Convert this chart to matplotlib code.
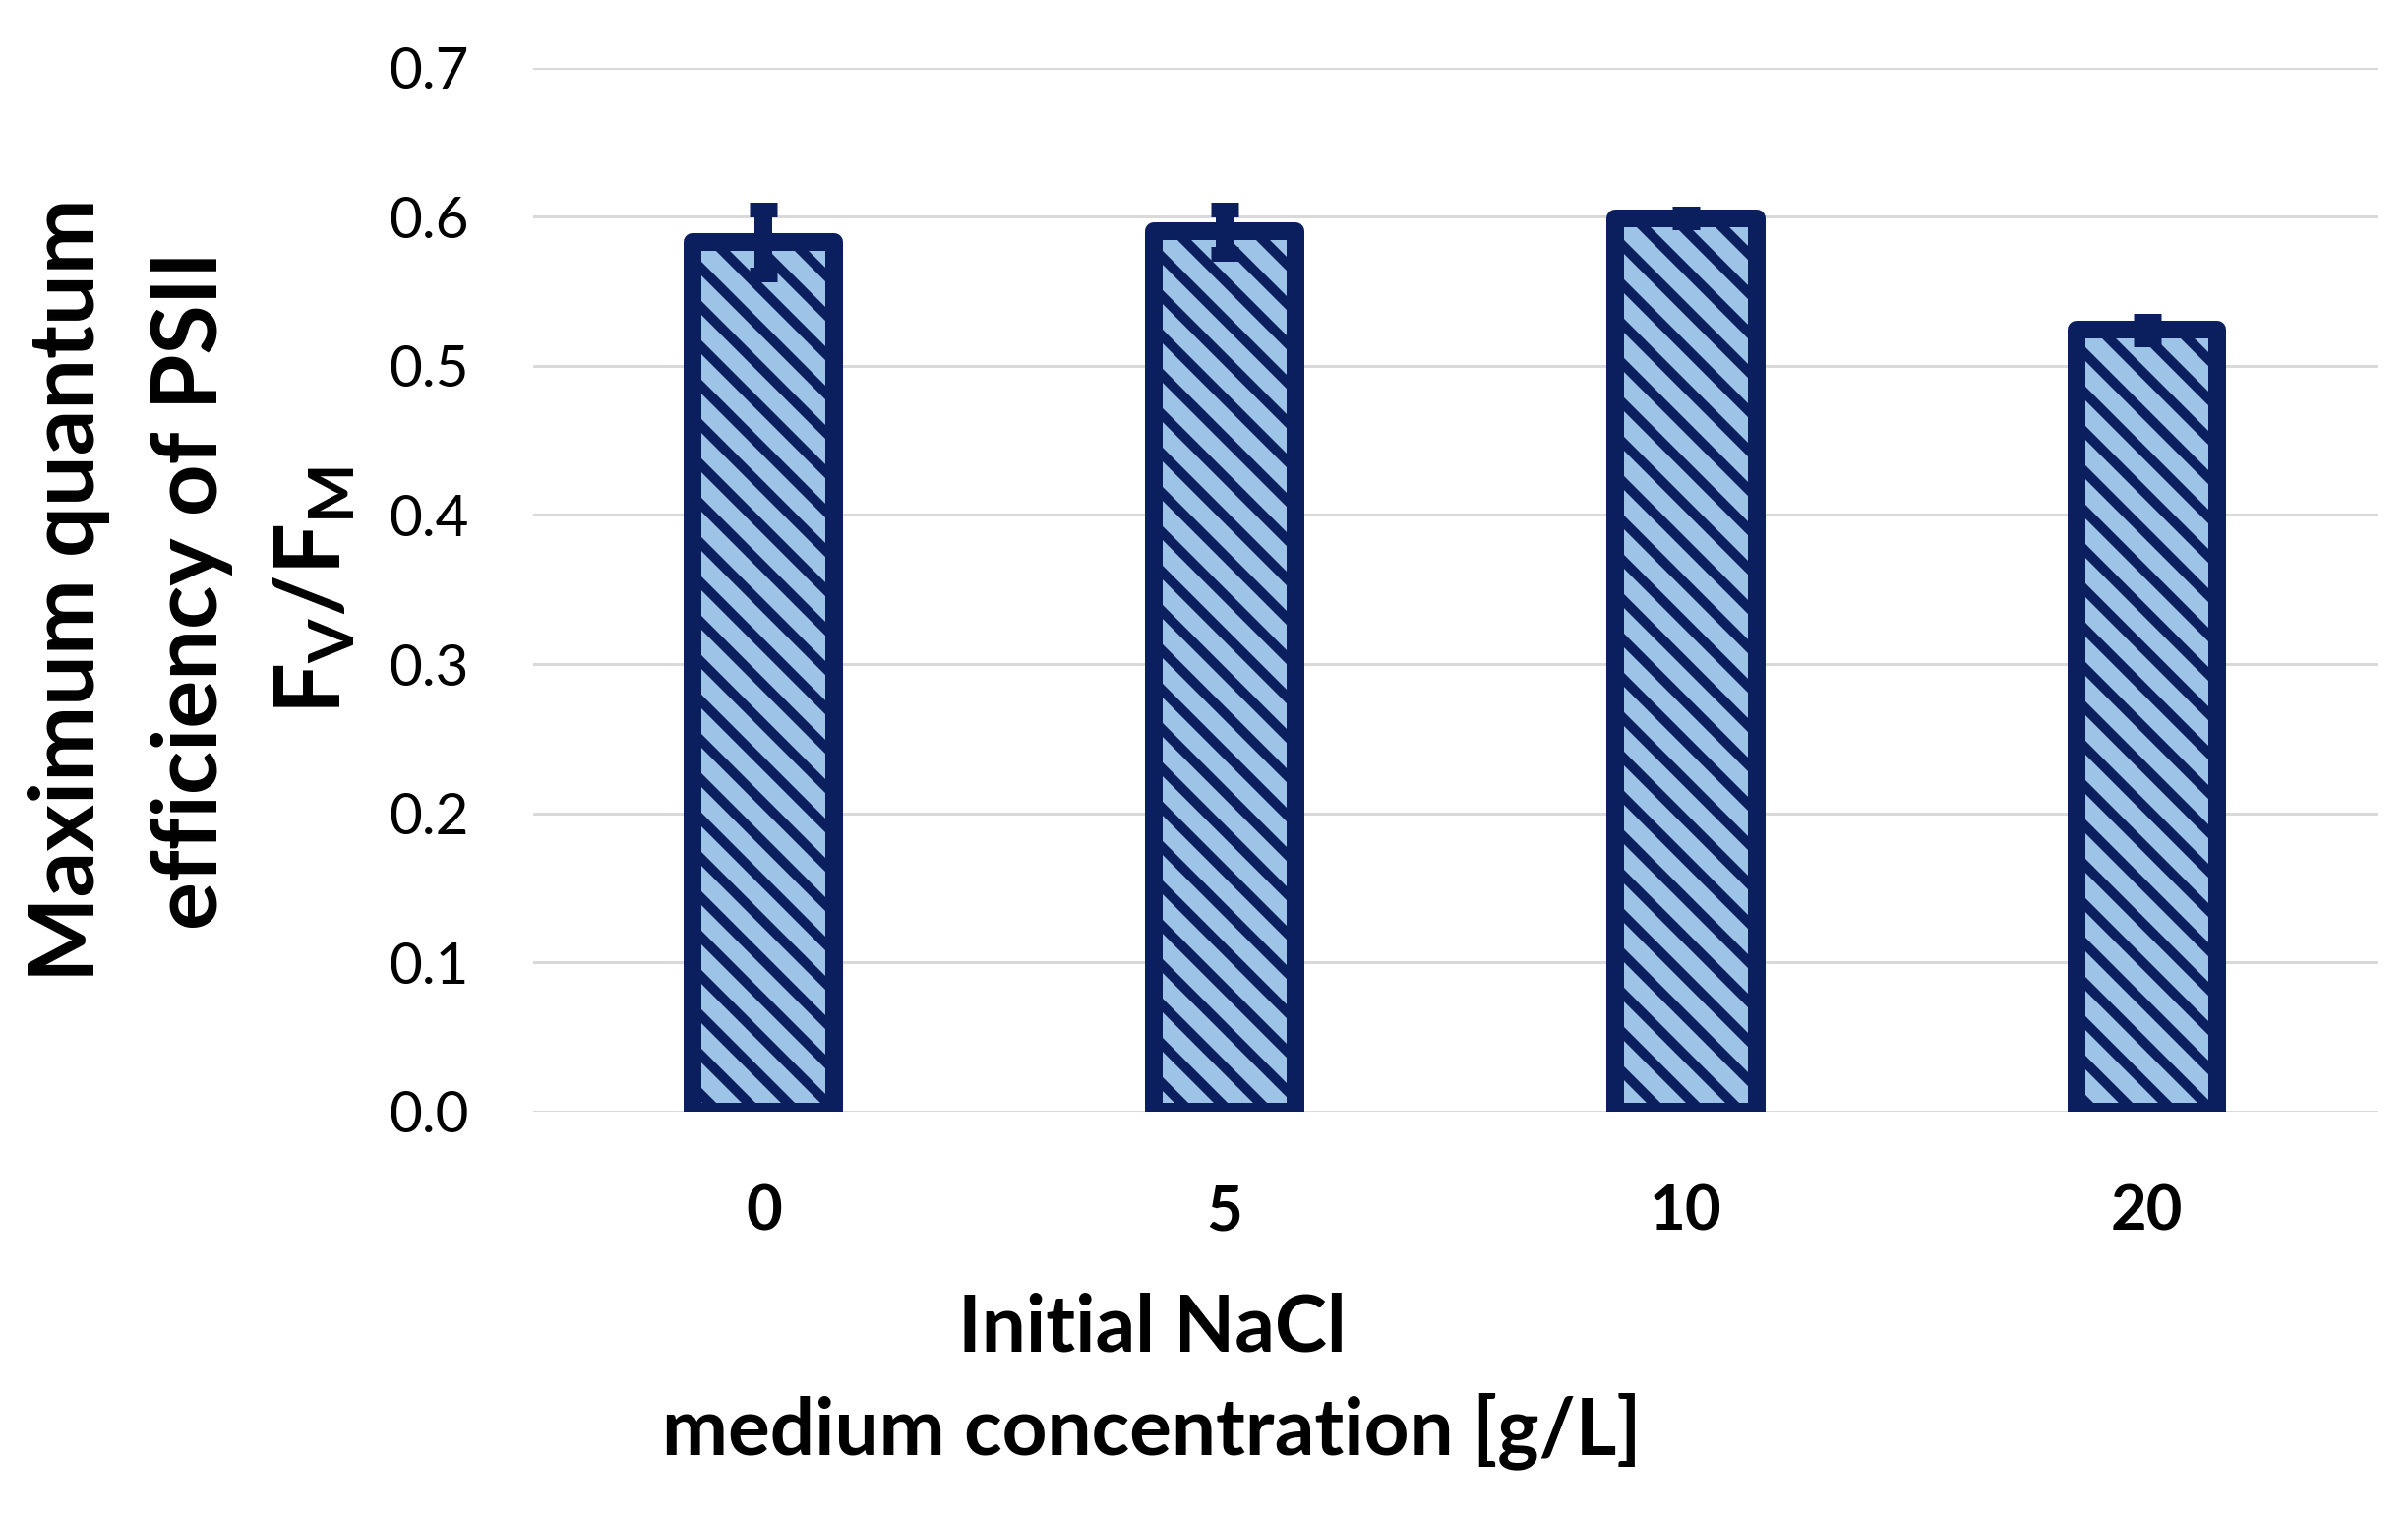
import numpy as np
import matplotlib
matplotlib.use("Agg")
import matplotlib.pyplot as plt

# data
categories = ["0", "5", "10", "20"]
fv_fm = [0.583, 0.590, 0.599, 0.524]
fv_fm_err = [0.022, 0.015, 0.003, 0.006]
y_ticks = [0.0, 0.1, 0.2, 0.3, 0.4, 0.5, 0.6, 0.7]

NAVY = "#0B1F5E"
LIGHT_BLUE = "#9DC3E6"

plt.rcParams["font.family"] = ["Lato", "DejaVu Sans"]
plt.rcParams["mathtext.fontset"] = "custom"
plt.rcParams["mathtext.rm"] = "Lato:bold"
plt.rcParams["mathtext.it"] = "Lato:bold"
plt.rcParams["mathtext.bf"] = "Lato:bold"
plt.rcParams["hatch.linewidth"] = 3.0

fig = plt.figure(figsize=(10.2, 6.425), dpi=240)
ax = fig.add_axes([0.2214, 0.2672, 0.7659, 0.6883])

x = np.arange(len(categories))
ax.bar(
    x,
    fv_fm,
    width=0.307,
    color=LIGHT_BLUE,
    edgecolor=NAVY,
    linewidth=5.4,
    hatch="\\\\",
    joinstyle="round",
    zorder=2,
)
ax.errorbar(
    x,
    fv_fm,
    yerr=fv_fm_err,
    fmt="none",
    ecolor=NAVY,
    elinewidth=5.4,
    capsize=4.2,
    capthick=4.5,
    zorder=3,
)

ax.set_xlim(-0.5, len(categories) - 0.5)
ax.set_ylim(0, 0.7)
ax.set_yticks(y_ticks)
ax.set_yticklabels([f"{v:.1f}" for v in y_ticks], fontsize=17.5)
ax.set_xticks(x)
ax.set_xticklabels(categories, fontsize=19, fontweight="bold")
ax.tick_params(axis="both", length=0)
ax.tick_params(axis="y", pad=19.5)
ax.tick_params(axis="x", pad=22)

ax.grid(axis="y", color="#D9D9D9", linewidth=0.9)
ax.set_axisbelow(True)
for s in ax.spines.values():
    s.set_visible(False)

# y axis title, three lines
ylab_kw = dict(rotation=90, ha="center", va="center", fontsize=27.5, fontweight="bold")
fig.text(70 / 2448, 1 - 600 / 1542, "Maximum quantum", **ylab_kw)
fig.text(195 / 2448, 1 - 600 / 1542, "efficiency of PSII", **ylab_kw)
fig.text(320 / 2448, 1 - 600 / 1542, r"$\mathbf{F_V/F_M}$", **ylab_kw)

# x axis title, two lines
fig.text(1171 / 2448, 1 - 1350 / 1542, "Initial NaCl",
         ha="center", va="center", fontsize=24, fontweight="bold")
fig.text(1171 / 2448, 1 - 1455 / 1542, "medium concentration [g/L]",
         ha="center", va="center", fontsize=24, fontweight="bold")

fig.savefig("out.png", dpi=240)
